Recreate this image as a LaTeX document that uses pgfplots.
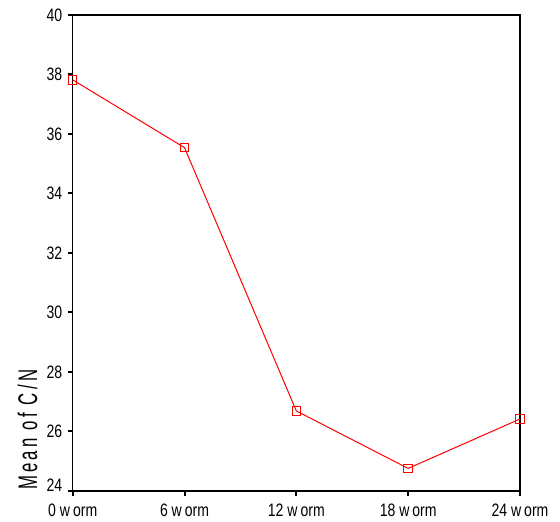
\documentclass[border=0pt]{standalone}
\usepackage{pgfplots}
\pgfplotsset{compat=1.18}
\usepackage{fontspec}
\setmainfont{Liberation Sans}[FakeStretch=0.78]
\newfontfamily\labfont{Liberation Sans}[FakeStretch=0.62,LetterSpace=12]
\begin{document}
\begin{tikzpicture}
\begin{axis}[
  scale only axis,
  width=447.3pt, height=476pt,
  xmin=0, xmax=24, ymin=24, ymax=40,
  xtick={0,6,12,18,24},
  xticklabels={0 w\,orm,6 w\,orm,12 w\,orm,18 w\,orm,24 w\,orm},
  ytick={26,28,...,40},
  extra y ticks={24},
  extra y tick style={yticklabel style={yshift=6pt}},
  tick align=outside,
  xtick pos=bottom, ytick pos=left,
  major tick length=5pt,
  tick style={line width=2pt, black},
  axis line style={line width=1.2pt},
  /pgf/number format/assume math mode=true,
  ticklabel style={font=\fontsize{18}{18}\selectfont},
  xticklabel style={yshift=-4pt},
  yticklabel style={xshift=-2pt},
  clip=false,
]
\addplot[red, line width=1pt, mark=square, mark size=4.2pt, mark options={line width=1pt}]
  coordinates {(0,37.82) (6,35.54) (12,26.69) (18,24.76) (24,26.42)};
\coordinate (ll) at (rel axis cs:0,0);
\coordinate (ur) at (rel axis cs:1,1);
\end{axis}
\node[rotate=90, anchor=south west, inner sep=0pt] at ([shift={(-35pt,1pt)}]ll)
  {\resizebox{120pt}{19.5pt}{\labfont\fontsize{26}{26}\selectfont Mean of C/N}};
\pgfresetboundingbox
\path[use as bounding box] ([shift={(-72.7pt,-31pt)}]ll) rectangle ([shift={(40pt,15pt)}]ur);
\end{tikzpicture}
\end{document}
